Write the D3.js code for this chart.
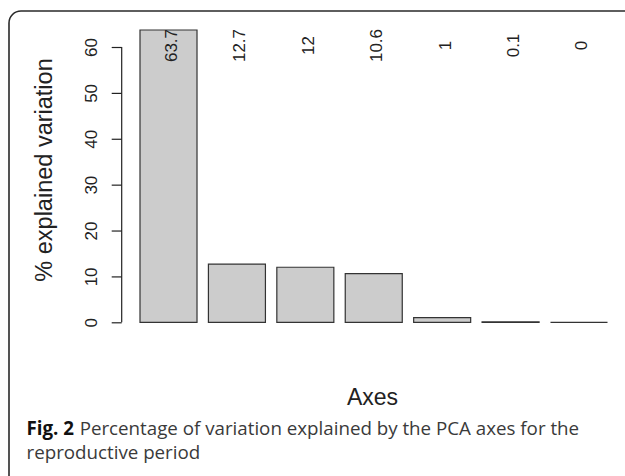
<!DOCTYPE html>
<html>
<head>
<meta charset="utf-8">
<script src="https://cdn.jsdelivr.net/npm/d3@7"></script>
<style>
  html, body { margin: 0; padding: 0; background: #fff; }
  svg { display: block; }
</style>
</head>
<body>
<svg id="chart" width="625" height="476"></svg>
<script>
// ---- data ----
const categories = ["PC1", "PC2", "PC3", "PC4", "PC5", "PC6", "PC7"];
const values = [63.7, 12.7, 12, 10.6, 1, 0.1, 0];
const valueLabels = ["63.7", "12.7", "12", "10.6", "1", "0.1", "0"];
const yTicks = [0, 10, 20, 30, 40, 50, 60];
const yTitle = "% explained variation";
const xTitle = "Axes";
const captionBold = "Fig. 2";
const captionLine1 = "Percentage of variation explained by the PCA axes for the";
const captionLine2 = "reproductive period";

const svg = d3.select("#chart");

// frame with rounded corner (extends past right/bottom edges)
svg.append("rect")
  .attr("x", 9).attr("y", 11)
  .attr("width", 700).attr("height", 520)
  .attr("rx", 12).attr("ry", 12)
  .attr("fill", "none")
  .attr("stroke", "#2a2a2a")
  .attr("stroke-width", 1.6);

// scales
const x = d3.scaleBand()
  .domain(categories)
  .range([140, 607.5])
  .paddingInner(0.2 / 1.2)
  .paddingOuter(0);

const y = d3.scaleLinear()
  .domain([0, 60])
  .range([322.3, 47]);

const font = "'Liberation Sans', Arial, Helvetica, sans-serif";

// bars (paths so that zero-height bars still show their outline)
svg.append("g").selectAll("path")
  .data(values)
  .join("path")
  .attr("d", (d, i) => {
    const x0 = x(categories[i]), x1 = x0 + x.bandwidth();
    const y0 = y(0), y1 = y(d);
    return `M${x0},${y0}V${y1}H${x1}V${y0}Z`;
  })
  .attr("fill", "#cccccc")
  .attr("stroke", "#333")
  .attr("stroke-width", 1.2);

// y axis
const yAxis = d3.axisLeft(y)
  .tickValues(yTicks)
  .tickSize(10)
  .tickPadding(0)
  .tickFormat(d3.format("d"));

const gy = svg.append("g")
  .attr("transform", "translate(121.7,0)")
  .call(yAxis);
gy.select(".domain")
  .attr("d", `M0,${y(0)}V${y(60)}`)
  .attr("stroke", "#222").attr("stroke-width", 1.2);
gy.selectAll(".tick line").attr("stroke", "#222").attr("stroke-width", 1.2);
gy.selectAll(".tick text")
  .attr("x", null).attr("dy", null)
  .attr("text-anchor", "middle")
  .attr("transform", "translate(-24.7,0) rotate(-90)")
  .attr("y", 0)
  .attr("font-family", font)
  .attr("font-size", 17)
  .attr("fill", "#222");

// value labels (rotated)
svg.append("g").selectAll("text")
  .data(values)
  .join("text")
  .attr("transform", (d, i) => `translate(${x(categories[i]) + x.bandwidth() / 2 + 8.5},45.5) rotate(-90)`)
  .attr("text-anchor", "middle")
  .attr("font-family", font)
  .attr("font-size", 17)
  .attr("fill", "#222")
  .text((d, i) => valueLabels[i]);

// y title
svg.append("text")
  .attr("transform", "translate(52,170) rotate(-90)")
  .attr("text-anchor", "middle")
  .attr("font-family", font)
  .attr("font-size", 23.5)
  .attr("fill", "#222")
  .text(yTitle);

// x title
svg.append("text")
  .attr("x", 372.5).attr("y", 405)
  .attr("text-anchor", "middle")
  .attr("font-family", font)
  .attr("font-size", 23)
  .attr("fill", "#222")
  .text(xTitle);

// caption
const capFont = "'Open Sans', 'Noto Sans', sans-serif";
let fs = 16;
const capB = svg.append("text")
  .attr("x", 26.5).attr("y", 435)
  .attr("font-family", capFont)
  .attr("font-weight", "bold")
  .attr("font-size", fs)
  .attr("fill", "#111")
  .text(captionBold);
const cap1 = svg.append("text")
  .attr("y", 435)
  .attr("font-family", capFont)
  .attr("font-size", fs)
  .attr("fill", "#3a3a3a")
  .text(captionLine1);
const cap2 = svg.append("text")
  .attr("x", 26.5).attr("y", 459)
  .attr("font-family", capFont)
  .attr("font-size", fs)
  .attr("fill", "#3a3a3a")
  .text(captionLine2);

// fit caption line to the reference width (~553px)
const gap = 0.3;
const wB = capB.node().getComputedTextLength();
const w1 = cap1.node().getComputedTextLength();
const total = wB + w1 + gap * fs;
if (total > 0) {
  fs = fs * 553 / total;
  capB.attr("font-size", fs);
  cap1.attr("font-size", fs);
  cap2.attr("font-size", fs);
}
const wB2 = capB.node().getComputedTextLength();
cap1.attr("x", 26.5 + wB2 + gap * fs);
</script>
</body>
</html>
